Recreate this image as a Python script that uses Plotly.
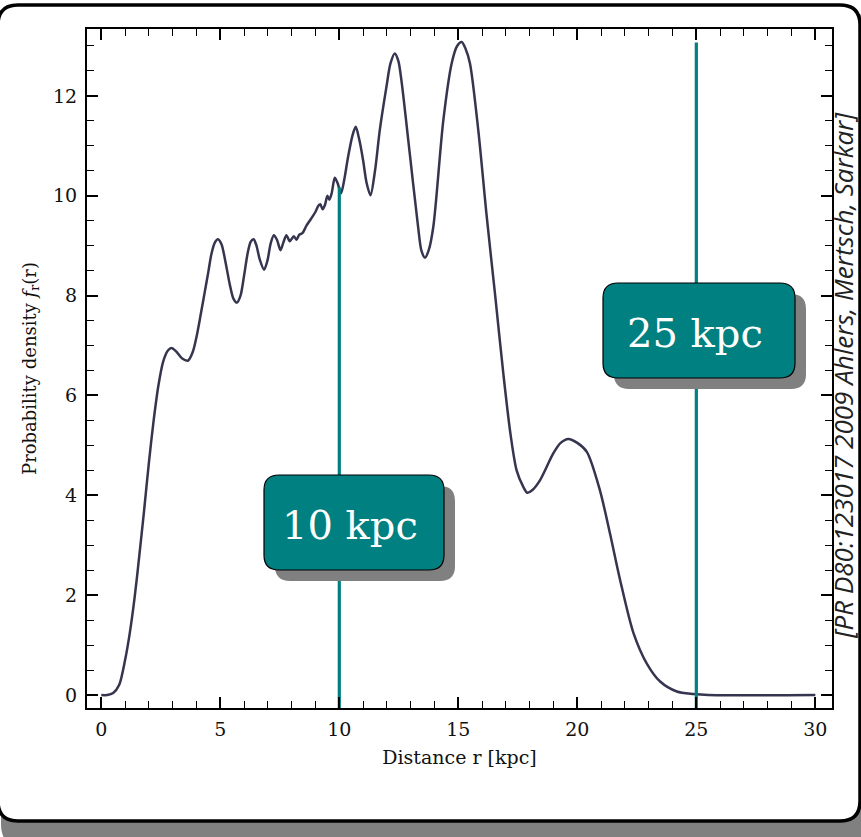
import plotly.graph_objects as go

# Radial distribution of sources: distance r [kpc] vs probability density f_r(r)
R_KPC = [
    0.00, 0.25, 0.50, 0.75, 1.00, 1.20, 1.40, 1.60, 1.80, 2.00,
    2.20, 2.40, 2.60, 2.80, 2.95, 3.15, 3.40, 3.65, 3.85, 4.00,
    4.20, 4.35, 4.50, 4.63, 4.78, 4.90, 5.05, 5.20, 5.40, 5.55,
    5.70, 5.85, 6.00, 6.15, 6.28, 6.40, 6.52, 6.66, 6.84, 6.98,
    7.12, 7.25, 7.38, 7.53, 7.66, 7.78, 7.92, 8.09, 8.20, 8.32,
    8.45, 8.62, 8.80, 9.00, 9.12, 9.20, 9.30, 9.40, 9.50, 9.58,
    9.68, 9.81, 9.93, 10.07, 10.20, 10.37, 10.55, 10.69, 10.85, 11.00,
    11.15, 11.31, 11.50, 11.70, 11.98, 12.15, 12.33, 12.48, 12.61, 12.96,
    13.31, 13.45, 13.60, 13.75, 13.95, 14.37, 14.72, 14.95, 15.14, 15.30,
    15.49, 15.84, 16.19, 16.55, 16.90, 17.20, 17.45, 17.73, 17.90, 18.10,
    18.43, 18.99, 19.30, 19.62, 20.00, 20.40, 20.95, 21.37, 21.80, 22.36,
    22.92, 23.48, 24.18, 24.88, 25.50, 30.00,
]
DENSITY = [
    0.00, 0.00, 0.04, 0.20, 0.70, 1.25, 1.95, 2.80, 3.70, 4.65,
    5.50, 6.20, 6.68, 6.90, 6.95, 6.88, 6.74, 6.70, 6.88, 7.17,
    7.68, 8.08, 8.48, 8.84, 9.07, 9.13, 9.03, 8.72, 8.22, 7.94,
    7.86, 8.00, 8.40, 8.85, 9.08, 9.13, 9.00, 8.72, 8.52, 8.70,
    9.05, 9.21, 9.12, 8.91, 9.08, 9.21, 9.09, 9.19, 9.12, 9.22,
    9.25, 9.40, 9.53, 9.68, 9.80, 9.83, 9.73, 9.82, 10.00, 9.92,
    10.05, 10.36, 10.25, 10.05, 10.30, 10.78, 11.20, 11.38, 11.10, 10.71,
    10.25, 10.01, 10.50, 11.31, 12.18, 12.65, 12.85, 12.70, 12.31, 10.85,
    9.38, 8.90, 8.76, 8.90, 9.38, 11.51, 12.65, 13.00, 13.08, 12.95,
    12.65, 11.31, 9.60, 8.00, 6.40, 5.20, 4.50, 4.17, 4.05, 4.10,
    4.30, 4.84, 5.05, 5.13, 5.05, 4.87, 4.10, 3.24, 2.30, 1.24,
    0.63, 0.27, 0.07, 0.02, 0.00, 0.00,
]

# Marked distances and the height each marker line reaches
MARK_R = [10, 25]
MARK_TOP = [10.17, 13.07]
MARK_TEXT = ["10 kpc", "25 kpc"]

X_TICKS = [0, 5, 10, 15, 20, 25, 30]
Y_TICKS = [0, 2, 4, 6, 8, 10, 12]
X_RANGE = [-0.6, 30.7]
Y_RANGE = [-0.26, 13.34]

CITATION = "[PR D80:123017 2009 Ahlers, Mertsch, Sarkar]"

W, H = 861, 837
ML, MR, MT, MB = 87, 29, 29, 129
PW, PH = W - ML - MR, H - MT - MB

TEAL = "#008080"
CURVE = "#35354f"
SERIF = "DejaVu Serif, Liberation Serif, serif"


def px(x):
    return (x - ML) / PW


def py(y):
    return (H - MB - y) / PH


def rounded_rect(x0, y0, x1, y1, r):
    """SVG path (paper coordinates) for a rounded rectangle given in pixels."""
    pts = [
        ("M", (x0 + r, y0)), ("L", (x1 - r, y0)), ("Q", (x1, y0), (x1, y0 + r)),
        ("L", (x1, y1 - r)), ("Q", (x1, y1), (x1 - r, y1)),
        ("L", (x0 + r, y1)), ("Q", (x0, y1), (x0, y1 - r)),
        ("L", (x0, y0 + r)), ("Q", (x0, y0), (x0 + r, y0)),
    ]
    out = []
    for seg in pts:
        cmd, coords = seg[0], seg[1:]
        out.append(cmd + " ".join(f"{px(a):.5f},{py(b):.5f}" for a, b in coords))
    return " ".join(out) + " Z"


fig = go.Figure()

fig.add_trace(go.Scatter(
    x=R_KPC, y=DENSITY, mode="lines",
    line=dict(color=CURVE, width=2.5, shape="spline", smoothing=0.8),
    hoverinfo="skip", showlegend=False,
))

for r, top in zip(MARK_R, MARK_TOP):
    fig.add_trace(go.Scatter(
        x=[r, r], y=[Y_RANGE[0], top], mode="lines",
        line=dict(color=TEAL, width=3.2),
        hoverinfo="skip", showlegend=False,
    ))

shapes = []
# page frame with drop shadow
shapes.append(dict(type="path", xref="paper", yref="paper", layer="below",
                   path=rounded_rect(1, 14, 878, 848, 24),
                   fillcolor="#808080", line=dict(width=0)))
shapes.append(dict(type="path", xref="paper", yref="paper", layer="below",
                   path=rounded_rect(-2, 5, 860, 821, 20),
                   fillcolor="white", line=dict(color="black", width=3.5)))

# label boxes (pixel geometry) with shadows
boxes = [(264, 475, 444, 570), (603, 283, 795, 378)]
annotations = []
for (bx0, by0, bx1, by1), text in zip(boxes, MARK_TEXT):
    shapes.append(dict(type="path", xref="paper", yref="paper", layer="above",
                       path=rounded_rect(bx0 + 11, by0 + 11, bx1 + 11, by1 + 11, 15),
                       fillcolor="#808080", line=dict(width=0)))
    shapes.append(dict(type="path", xref="paper", yref="paper", layer="above",
                       path=rounded_rect(bx0, by0, bx1, by1, 15),
                       fillcolor=TEAL, line=dict(color="black", width=1.2)))
    annotations.append(dict(
        xref="paper", yref="paper", x=px((bx0 + bx1) / 2 - 4), y=py((by0 + by1) / 2 + 2),
        text=text, showarrow=False, xanchor="center", yanchor="middle",
        font=dict(family=SERIF, size=40, color="white"),
    ))

annotations.append(dict(
    xref="paper", yref="paper", x=px(843), y=py(376), text=CITATION,
    textangle=-90, showarrow=False, xanchor="center", yanchor="middle",
    font=dict(family="Open Sans", size=26, color="#222222", style="italic"),
))

axis_common = dict(
    showline=True, linecolor="black", linewidth=2, mirror="allticks",
    ticks="inside", ticklen=11, tickwidth=1.6, tickcolor="black",
    showgrid=False, zeroline=False,
    tickfont=dict(family=SERIF, size=19, color="#111111"),
)

fig.update_layout(
    width=W, height=H,
    margin=dict(l=ML, r=MR, t=MT, b=MB),
    paper_bgcolor="white", plot_bgcolor="rgba(0,0,0,0)",
    shapes=shapes, annotations=annotations,
    xaxis=dict(
        range=X_RANGE, tickvals=X_TICKS, ticklabelstandoff=3,
        minor=dict(dtick=1, tick0=0, ticks="inside", ticklen=7, tickwidth=1.4, tickcolor="black"),
        title=dict(text="Distance r [kpc]", standoff=12,
                   font=dict(family=SERIF, size=19, color="#111111")),
        **axis_common,
    ),
    yaxis=dict(
        range=Y_RANGE, tickvals=Y_TICKS, ticklabelstandoff=4,
        minor=dict(dtick=0.5, tick0=0, ticks="inside", ticklen=7, tickwidth=1.4, tickcolor="black"),
        title=dict(text="Probability density <i>f</i><sub>r</sub>(r)", standoff=12,
                   font=dict(family=SERIF, size=18, color="#111111")),
        **axis_common,
    ),
)

fig.write_html("out.html")
